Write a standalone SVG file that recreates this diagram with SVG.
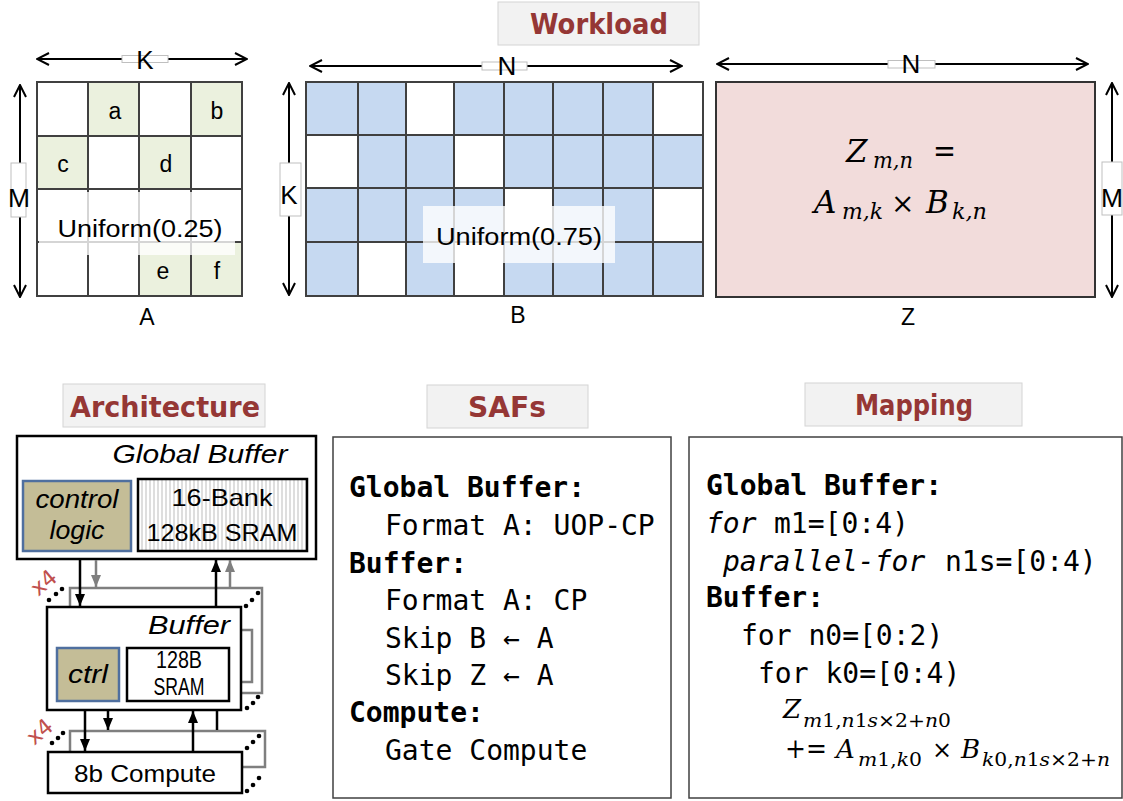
<svg xmlns="http://www.w3.org/2000/svg" width="1123" height="801" viewBox="0 0 1123 801">
  <style>
    .bg { fill: #ffffff; }
    .title-box { fill: #f2f2f2; stroke: #d4d4d4; stroke-width: 1; }
    .title { font-family: "DejaVu Sans", "Liberation Sans", sans-serif; font-weight: bold; font-size: 28px; fill: #953735; text-anchor: middle; }
    .cell { stroke: #404040; stroke-width: 2; }
    .w { fill: #ffffff; }
    .g { fill: #ebf1de; }
    .bl { fill: #c6d9f1; }
    .lbl { font-family: "Liberation Sans", Arial, sans-serif; font-size: 23px; fill: #000; text-anchor: middle; }
    .dim { font-family: "Liberation Sans", Arial, sans-serif; font-size: 26px; fill: #000; text-anchor: middle; }
    .dimbox { fill: #ffffff; stroke: #bfbfbf; stroke-width: 1; }
    .dimline { stroke: #000; stroke-width: 2; fill: none; marker-start: url(#open); marker-end: url(#open); }
    .veil { fill: #ffffff; fill-opacity: 0.78; }
    .uni { font-family: "Liberation Sans", Arial, sans-serif; font-size: 23px; fill: #000; text-anchor: middle; }
    .math { font-family: "DejaVu Serif", "Liberation Serif", serif; font-style: italic; fill: #000; }
    .up { font-style: normal; }
    .blk { fill: #ffffff; stroke: #000; stroke-width: 2.5; }
    .ghost { fill: #ffffff; stroke: #7f7f7f; stroke-width: 2.5; }
    .ghost-line { fill: none; stroke: #7f7f7f; stroke-width: 2.5; }
    .ctl { fill: #c4bd97; stroke: #4f6f9f; stroke-width: 2.5; }
    .arch { font-family: "Liberation Sans", Arial, sans-serif; font-size: 24px; fill: #000; text-anchor: middle; }
    .arch-i { font-family: "Liberation Sans", Arial, sans-serif; font-style: italic; font-size: 25px; fill: #000; text-anchor: middle; }
    .dot { fill: #000; }
    .x4 { font-family: "DejaVu Sans", sans-serif; font-size: 22px; fill: #c0504d; text-anchor: middle; }
    .wire { stroke: #000; stroke-width: 2.5; fill: none; }
    .wire-g { stroke: #7f7f7f; stroke-width: 2.5; fill: none; }
    .panel { fill: #ffffff; stroke: #404040; stroke-width: 1.5; }
    .code { font-family: "DejaVu Sans Mono", "Liberation Mono", monospace; font-size: 28px; fill: #000; }
    .b { font-weight: bold; }
    .it { font-style: italic; }
  </style>
  <defs>
    <marker id="open" viewBox="0 0 14 14" refX="13" refY="7" markerWidth="14" markerHeight="14" markerUnits="userSpaceOnUse" orient="auto-start-reverse">
      <path d="M1,1 L13,7 L1,13" fill="none" stroke="#000" stroke-width="2"/>
    </marker>
    <marker id="tri" viewBox="0 0 12 10" refX="12" refY="5" markerWidth="12" markerHeight="10" markerUnits="userSpaceOnUse" orient="auto">
      <path d="M0,0 L12,5 L0,10 z" fill="#000"/>
    </marker>
    <marker id="tri-g" viewBox="0 0 12 10" refX="12" refY="5" markerWidth="12" markerHeight="10" markerUnits="userSpaceOnUse" orient="auto">
      <path d="M0,0 L12,5 L0,10 z" fill="#7f7f7f"/>
    </marker>
    <pattern id="stripes" width="4" height="10" patternUnits="userSpaceOnUse">
      <rect width="4" height="10" fill="#ffffff"/>
      <line x1="2" y1="0" x2="2" y2="10" stroke="#c8c8c8" stroke-width="1.2"/>
    </pattern>
  </defs>

  <rect class="bg" x="0" y="0" width="1123" height="801"/>

  <!-- Workload heading -->
  <g id="workload-title">
    <rect class="title-box" x="498" y="2" width="201" height="43"/>
    <text class="title" x="599" y="34" textLength="138" lengthAdjust="spacingAndGlyphs">Workload</text>
  </g>

  <!-- Matrix A: 4x4, density 0.25 -->
  <g id="matrix-a">
    <rect class="cell w" x="37" y="82" width="51" height="54"/>
    <rect class="cell g" x="88" y="82" width="51" height="54"/>
    <rect class="cell w" x="139" y="82" width="52" height="54"/>
    <rect class="cell g" x="191" y="82" width="51" height="54"/>
    <rect class="cell g" x="37" y="136" width="51" height="53"/>
    <rect class="cell w" x="88" y="136" width="51" height="53"/>
    <rect class="cell g" x="139" y="136" width="52" height="53"/>
    <rect class="cell w" x="191" y="136" width="51" height="53"/>
    <rect class="cell w" x="37" y="189" width="51" height="53"/>
    <rect class="cell w" x="88" y="189" width="51" height="53"/>
    <rect class="cell w" x="139" y="189" width="52" height="53"/>
    <rect class="cell w" x="191" y="189" width="51" height="53"/>
    <rect class="cell w" x="37" y="242" width="51" height="54"/>
    <rect class="cell w" x="88" y="242" width="51" height="54"/>
    <rect class="cell g" x="139" y="242" width="52" height="54"/>
    <rect class="cell g" x="191" y="242" width="51" height="54"/>
    <text class="lbl" x="115" y="119">a</text>
    <text class="lbl" x="217" y="119">b</text>
    <text class="lbl" x="63" y="172">c</text>
    <text class="lbl" x="166" y="172">d</text>
    <text class="lbl" x="163" y="279">e</text>
    <text class="lbl" x="217" y="279">f</text>
    <rect class="veil" x="39" y="192" width="196" height="63"/>
    <text class="uni" x="140" y="237" textLength="165" lengthAdjust="spacingAndGlyphs">Uniform(0.25)</text>
    <text class="lbl" x="147" y="325">A</text>
  </g>

  <!-- Matrix B: 4x8, density 0.75 -->
  <g id="matrix-b">
    <rect class="cell bl" x="306" y="82" width="52" height="53"/>
    <rect class="cell bl" x="358" y="82" width="48" height="53"/>
    <rect class="cell w" x="406" y="82" width="48" height="53"/>
    <rect class="cell bl" x="454" y="82" width="50" height="53"/>
    <rect class="cell bl" x="504" y="82" width="49" height="53"/>
    <rect class="cell bl" x="553" y="82" width="50" height="53"/>
    <rect class="cell bl" x="603" y="82" width="50" height="53"/>
    <rect class="cell w" x="653" y="82" width="50" height="53"/>

    <rect class="cell w" x="306" y="135" width="52" height="53"/>
    <rect class="cell bl" x="358" y="135" width="48" height="53"/>
    <rect class="cell bl" x="406" y="135" width="48" height="53"/>
    <rect class="cell w" x="454" y="135" width="50" height="53"/>
    <rect class="cell bl" x="504" y="135" width="49" height="53"/>
    <rect class="cell bl" x="553" y="135" width="50" height="53"/>
    <rect class="cell bl" x="603" y="135" width="50" height="53"/>
    <rect class="cell bl" x="653" y="135" width="50" height="53"/>

    <rect class="cell bl" x="306" y="188" width="52" height="54"/>
    <rect class="cell bl" x="358" y="188" width="48" height="54"/>
    <rect class="cell bl" x="406" y="188" width="48" height="54"/>
    <rect class="cell bl" x="454" y="188" width="50" height="54"/>
    <rect class="cell w" x="504" y="188" width="49" height="54"/>
    <rect class="cell bl" x="553" y="188" width="50" height="54"/>
    <rect class="cell bl" x="603" y="188" width="50" height="54"/>
    <rect class="cell w" x="653" y="188" width="50" height="54"/>

    <rect class="cell bl" x="306" y="242" width="52" height="54"/>
    <rect class="cell w" x="358" y="242" width="48" height="54"/>
    <rect class="cell bl" x="406" y="242" width="48" height="54"/>
    <rect class="cell w" x="454" y="242" width="50" height="54"/>
    <rect class="cell bl" x="504" y="242" width="49" height="54"/>
    <rect class="cell bl" x="553" y="242" width="50" height="54"/>
    <rect class="cell bl" x="603" y="242" width="50" height="54"/>
    <rect class="cell bl" x="653" y="242" width="50" height="54"/>

    <rect class="veil" x="423" y="206" width="192" height="57"/>
    <text class="uni" x="519" y="245" textLength="166" lengthAdjust="spacingAndGlyphs">Uniform(0.75)</text>
    <text class="lbl" x="518" y="323">B</text>
  </g>

  <!-- Matrix Z: result -->
  <g id="matrix-z">
    <rect x="716" y="82" width="379" height="215" fill="#f2dcdb" stroke="#333333" stroke-width="2"/>
    <text class="math" x="846" y="162" font-size="31">Z</text>
    <text class="math" x="873" y="168" font-size="22" textLength="40" lengthAdjust="spacingAndGlyphs">m,n</text>
    <text class="math up" x="933" y="162" font-size="32" textLength="23" lengthAdjust="spacingAndGlyphs">=</text>
    <text class="math" x="814" y="213" font-size="31">A</text>
    <text class="math" x="842" y="219" font-size="22" textLength="41" lengthAdjust="spacingAndGlyphs">m,k</text>
    <text class="math up" x="891" y="213" font-size="28">×</text>
    <text class="math" x="926" y="213" font-size="31">B</text>
    <text class="math" x="952" y="219" font-size="22" textLength="35" lengthAdjust="spacingAndGlyphs">k,n</text>
    <text class="lbl" x="908" y="325">Z</text>
  </g>

  <!-- Architecture heading -->
  <g id="arch-title">
    <rect class="title-box" x="63" y="384" width="202" height="43"/>
    <text class="title" x="165" y="417" textLength="190" lengthAdjust="spacingAndGlyphs">Architecture</text>
  </g>

  <!-- Global Buffer level -->
  <g id="global-buffer">
    <rect class="blk" x="17" y="436" width="299" height="123"/>
    <text class="arch-i" x="200" y="463" textLength="175" lengthAdjust="spacingAndGlyphs">Global Buffer</text>
    <rect class="ctl" x="23" y="481" width="108" height="70"/>
    <text class="arch-i" x="77" y="508" textLength="83" lengthAdjust="spacingAndGlyphs">control</text>
    <text class="arch-i" x="77" y="539" textLength="55" lengthAdjust="spacingAndGlyphs">logic</text>
    <rect x="138" y="479" width="169" height="72" fill="url(#stripes)" stroke="#000" stroke-width="2.5"/>
    <text class="arch" x="222" y="506" textLength="101" lengthAdjust="spacingAndGlyphs">16-Bank</text>
    <text class="arch" x="222" y="541" textLength="151" lengthAdjust="spacingAndGlyphs">128kB SRAM</text>
  </g>

  <!-- Buffer level, replicated x4 -->
  <g id="buffer-stack">
    <rect class="ghost" x="70" y="588" width="192" height="105"/>
    <path class="ghost-line" d="M241,630 H252 V682 H241"/>
    <rect class="blk" x="47" y="607" width="194" height="103"/>
    <text class="arch-i" x="189" y="634" textLength="82" lengthAdjust="spacingAndGlyphs">Buffer</text>
    <rect class="ctl" x="57" y="648" width="62" height="53"/>
    <text class="arch-i" x="88" y="683" textLength="40" lengthAdjust="spacingAndGlyphs">ctrl</text>
    <rect class="blk" x="127" y="648" width="102" height="53"/>
    <text class="arch" x="179" y="668" font-size="19" textLength="46" lengthAdjust="spacingAndGlyphs">128B</text>
    <text class="arch" x="179" y="695" font-size="19" textLength="51" lengthAdjust="spacingAndGlyphs">SRAM</text>
    <circle class="dot" cx="49" cy="600" r="2.3"/>
    <circle class="dot" cx="56" cy="594" r="2.3"/>
    <circle class="dot" cx="62" cy="589" r="2.3"/>
    <circle class="dot" cx="246" cy="606" r="2.3"/>
    <circle class="dot" cx="252" cy="600" r="2.3"/>
    <circle class="dot" cx="258" cy="593" r="2.3"/>
    <circle class="dot" cx="247" cy="708" r="2.3"/>
    <circle class="dot" cx="253" cy="703" r="2.3"/>
    <circle class="dot" cx="258" cy="697" r="2.3"/>
    <text class="x4" transform="translate(44,583) rotate(-40)" dy="7">x4</text>
  </g>

  <!-- Compute level, replicated x4 -->
  <g id="compute-stack">
    <rect class="ghost" x="70" y="731" width="195" height="36"/>
    <rect class="blk" x="48" y="752" width="194" height="41"/>
    <text class="arch" x="145" y="782" textLength="142" lengthAdjust="spacingAndGlyphs">8b Compute</text>
    <circle class="dot" cx="52" cy="743" r="2.3"/>
    <circle class="dot" cx="58" cy="738" r="2.3"/>
    <circle class="dot" cx="63" cy="733" r="2.3"/>
    <circle class="dot" cx="247" cy="748" r="2.3"/>
    <circle class="dot" cx="253" cy="742" r="2.3"/>
    <circle class="dot" cx="259" cy="736" r="2.3"/>
    <circle class="dot" cx="247" cy="791" r="2.3"/>
    <circle class="dot" cx="253" cy="785" r="2.3"/>
    <circle class="dot" cx="259" cy="778" r="2.3"/>
    <text class="x4" transform="translate(40,732) rotate(-40)" dy="7">x4</text>
  </g>

  <!-- SAFs heading and panel -->
  <g id="safs-title">
    <rect class="title-box" x="427" y="385" width="161" height="43"/>
    <text class="title" x="507" y="417" textLength="78" lengthAdjust="spacingAndGlyphs">SAFs</text>
  </g>
  <g id="safs">
    <rect class="panel" x="333" y="437" width="338" height="361"/>
    <text class="code b" x="349" y="497">Global Buffer:</text>
    <text class="code" x="385" y="535">Format A: UOP-CP</text>
    <text class="code b" x="349" y="573">Buffer:</text>
    <text class="code" x="385" y="610">Format A: CP</text>
    <text class="code" x="385" y="648" xml:space="preserve">Skip B ← A</text>
    <text class="code" x="385" y="685" xml:space="preserve">Skip Z ← A</text>
    <text class="code b" x="349" y="722">Compute:</text>
    <text class="code" x="385" y="760">Gate Compute</text>
  </g>

  <!-- Mapping heading and panel -->
  <g id="mapping-title">
    <rect class="title-box" x="805" y="383" width="217" height="43"/>
    <text class="title" x="914" y="415" textLength="118" lengthAdjust="spacingAndGlyphs">Mapping</text>
  </g>
  <g id="mapping">
    <rect class="panel" x="689" y="437" width="433" height="361"/>
    <text class="code b" x="706" y="495">Global Buffer:</text>
    <text class="code" y="533"><tspan class="it" x="706">for</tspan><tspan x="774">m1=[0:4)</tspan></text>
    <text class="code" y="571"><tspan class="it" x="723">parallel-for</tspan><tspan x="945">n1s=[0:4)</tspan></text>
    <text class="code b" x="706" y="607">Buffer:</text>
    <text class="code" x="741" y="645">for n0=[0:2)</text>
    <text class="code" x="758" y="683">for k0=[0:4)</text>
    <text class="math" x="783" y="718" font-size="26">Z</text>
    <text class="math" x="803" y="727" font-size="19" textLength="148" lengthAdjust="spacingAndGlyphs">m<tspan class="up">1,</tspan>n<tspan class="up">1</tspan>s<tspan class="up">×2+</tspan>n<tspan class="up">0</tspan></text>
    <text class="math up" x="785" y="758" font-size="27" textLength="42" lengthAdjust="spacingAndGlyphs">+=</text>
    <text class="math" x="836" y="758" font-size="26">A</text>
    <text class="math" x="858" y="766" font-size="19" textLength="64" lengthAdjust="spacingAndGlyphs">m<tspan class="up">1,</tspan>k<tspan class="up">0</tspan></text>
    <text class="math up" x="932" y="758" font-size="24">×</text>
    <text class="math" x="961" y="758" font-size="26">B</text>
    <text class="math" x="982" y="766" font-size="19" textLength="128" lengthAdjust="spacingAndGlyphs">k<tspan class="up">0,</tspan>n<tspan class="up">1</tspan>s<tspan class="up">×2+</tspan>n</text>
  </g>

  <!-- Connectors: dimension arrows and data paths -->
  <g id="connectors">
    <line class="dimline" x1="37" y1="59" x2="247" y2="59"/>
    <line class="dimline" x1="20" y1="85" x2="20" y2="297"/>
    <line class="dimline" x1="310" y1="66" x2="682" y2="66"/>
    <line class="dimline" x1="289" y1="83" x2="289" y2="295"/>
    <line class="dimline" x1="717" y1="64" x2="1088" y2="64"/>
    <line class="dimline" x1="1112" y1="83" x2="1112" y2="297"/>

    <path class="wire" d="M80,560 V606" marker-end="url(#tri)"/>
    <path class="wire-g" d="M96,560 V587" marker-end="url(#tri-g)"/>
    <path class="wire" d="M216,606 V560" marker-end="url(#tri)"/>
    <path class="wire-g" d="M230,587 V560" marker-end="url(#tri-g)"/>
    <path class="wire" d="M85,711 V751" marker-end="url(#tri)"/>
    <path class="wire" d="M108,711 V730" marker-end="url(#tri)"/>
    <path class="wire" d="M193,751 V711" marker-end="url(#tri)"/>
    <path class="wire" d="M217,711 V730"/>
  </g>

  <!-- dimension labels sit on top of their arrows -->
  <g id="dim-labels">
    <rect class="dimbox" x="122" y="55.5" width="46" height="7"/>
    <text class="dim" x="145" y="69">K</text>
    <rect class="dimbox" x="11" y="163" width="15" height="54"/>
    <text class="dim" x="19" y="207" textLength="22" lengthAdjust="spacingAndGlyphs">M</text>
    <rect class="dimbox" x="482" y="62" width="45" height="8"/>
    <text class="dim" x="507" y="75">N</text>
    <rect class="dimbox" x="280" y="163" width="21" height="53"/>
    <text class="dim" x="289" y="204">K</text>
    <rect class="dimbox" x="888" y="60.5" width="47" height="7.5"/>
    <text class="dim" x="911" y="73">N</text>
    <rect class="dimbox" x="1102" y="162" width="20" height="53"/>
    <text class="dim" x="1112" y="207" textLength="22" lengthAdjust="spacingAndGlyphs">M</text>
  </g>
</svg>
